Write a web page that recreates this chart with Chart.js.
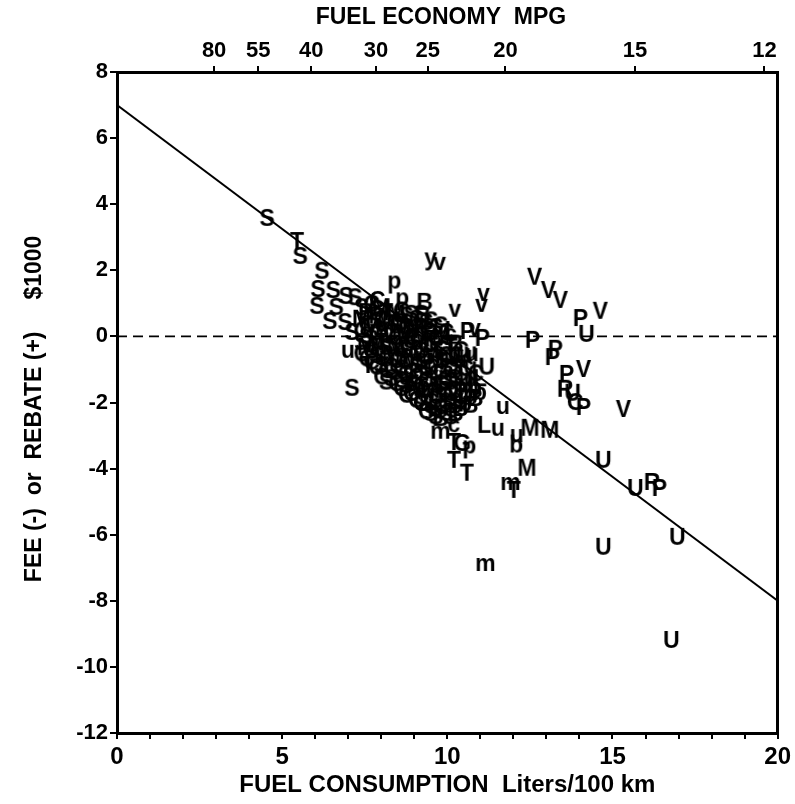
<!DOCTYPE html>
<html><head><meta charset="utf-8">
<script src="https://cdn.jsdelivr.net/npm/chart.js@4/dist/chart.umd.min.js"></script>
<style>html,body{margin:0;padding:0;background:#fff}</style>
</head><body>
<canvas id="c" width="795" height="804"></canvas>
<script>
// ---- data ----
const pointLetters = [
 'S','T','S','S','S','S','S','S','S','S','S','S','S','C','p','p','B','B','y','v',
 'v','v','v','L','P','v','P','u','u','U','u','S','T','u','L','u','u','b','M','M',
 'm','c','T','G','p','T','T','M','m','T','m','V','V','V','V','P','U','P','P','P',
 'P','V','R','U','C','P','V','U','U','R','P','U','U','U',
 // dense cluster
 'S','M','C','S','C','C','T','M','S','G','C','M','C','S','T','C','S','C',
 'L','M','C','S','M','C','S','C','S','M','C','S','C','G','C','S',
 'M','C','S','M','C','S','C','S','P','M','C','S','G','C','S','C','S',
 'B','C','M','C','S','M','C','S','S','M','C','S','C','G','S','C','B','c',
 'T','u','C','S','C','B','S','C','u','C','b','C','B','u','u','u','b','B','L','b','B',
 'C','S','M','C','G', 'S','C','M','S','C','T', 'M','C','S','G','C','S','M',
 'S','C','M','C','S','C','S', 'C','M','S','C','G','S','C','S', 'M','S','C','S','C','M','C','S',
 'S','C','G','S','C','M','S','C','S', 'C','S','M','C','S','C','B','S','C',
 'S','C','S','C','B','S','C','B', 'C','S','B','C','S','B','u', 'C','u','B','b','C', 'b','B','u'
];
const fuelConsumption = [
 4.54,5.45,5.54,6.20,6.08,6.54,6.93,6.05,6.63,6.44,6.90,7.11,7.20,7.87,8.41,8.65,9.32,9.26,9.50,9.77,
 10.23,11.10,11.04,10.14,10.62,10.83,11.07,10.23,10.74,11.20,6.99,7.11,7.60,11.68,11.13,11.53,12.10,12.10,12.50,13.10,
 9.80,10.20,10.20,10.44,10.68,10.20,10.59,12.41,11.92,12.01,11.16,12.65,13.07,13.43,14.64,14.04,14.22,12.59,13.28,13.19,
 13.62,14.13,13.59,13.80,13.86,14.13,15.34,14.73,15.70,16.22,16.43,16.97,14.73,16.79,
 7.4,7.4,7.4,7.4,7.4, 7.7,7.7,7.7,7.7,7.7,7.7, 8.0,8.0,8.0,8.0,8.0,8.0,8.0,
 8.3,8.3,8.3,8.3,8.3,8.3,8.3, 8.6,8.6,8.6,8.6,8.6,8.6,8.6,8.6,
 8.9,8.9,8.9,8.9,8.9,8.9,8.9,8.9, 9.2,9.2,9.2,9.2,9.2,9.2,9.2,9.2,9.2,
 9.5,9.5,9.5,9.5,9.5,9.5,9.5,9.5,9.5, 9.8,9.8,9.8,9.8,9.8,9.8,9.8,9.8,9.8,
 10.1,10.1,10.1,10.1,10.1,10.1,10.1,10.1, 10.4,10.4,10.4,10.4,10.4,10.4, 10.7,10.7,10.7,10.7,10.7, 11.0,11.0,
 7.55,7.55,7.55,7.55,7.55, 7.85,7.85,7.85,7.85,7.85,7.85, 8.15,8.15,8.15,8.15,8.15,8.15,8.15,
 8.45,8.45,8.45,8.45,8.45,8.45,8.45, 8.75,8.75,8.75,8.75,8.75,8.75,8.75,8.75, 9.05,9.05,9.05,9.05,9.05,9.05,9.05,9.05,
 9.35,9.35,9.35,9.35,9.35,9.35,9.35,9.35,9.35, 9.65,9.65,9.65,9.65,9.65,9.65,9.65,9.65,9.65,
 9.95,9.95,9.95,9.95,9.95,9.95,9.95,9.95, 10.25,10.25,10.25,10.25,10.25,10.25,10.25, 10.55,10.55,10.55,10.55,10.55, 10.85,10.85,10.85
];
const feeRebate = [
 3.60,2.90,2.45,2.00,1.45,1.42,1.24,0.94,0.91,0.48,0.45,0.15,1.20,1.12,1.57,1.06,1.06,0.67,2.27,2.21,
 0.79,1.27,0.94,0.21,0.18,0.21,-0.03,-0.55,-0.55,-0.90,-0.45,-1.54,-0.85,-2.15,-2.66,-2.81,-3.00,-3.24,-2.75,-2.81,
 -2.90,-2.70,-3.18,-3.21,-3.42,-3.72,-4.11,-3.96,-4.45,-4.63,-6.90,1.82,1.42,1.12,0.79,0.57,0.09,-0.09,-0.36,-0.61,
 -1.12,-0.97,-1.57,-1.69,-1.97,-2.12,-2.18,-3.72,-4.57,-4.39,-4.57,-6.05,-6.35,-9.17,
 0.9,0.55,0.2,-0.15,-0.5, 1.0,0.65,0.3,-0.05,-0.4,-0.75, 0.9,0.55,0.2,-0.15,-0.5,-0.85,-1.2,
 0.85,0.5,0.15,-0.2,-0.55,-0.9,-1.25, 0.8,0.45,0.1,-0.25,-0.6,-0.95,-1.3,-1.55,
 0.7,0.35,0.0,-0.35,-0.7,-1.05,-1.4,-1.7, 0.7,0.3,-0.05,-0.4,-0.75,-1.1,-1.45,-1.8,-2.0,
 0.5,0.15,-0.2,-0.55,-0.9,-1.25,-1.6,-1.95,-2.3, 0.35,0.0,-0.35,-0.7,-1.05,-1.4,-1.75,-2.1,-2.45,
 0.05,-0.3,-0.65,-1.0,-1.35,-1.7,-2.05,-2.4, -0.4,-0.75,-1.1,-1.45,-1.8,-2.15, -0.5,-0.95,-1.3,-1.7,-2.05, -1.25,-1.65,
 0.75,0.4,0.05,-0.3,-0.65, 0.85,0.5,0.15,-0.2,-0.55,-0.9, 0.75,0.4,0.05,-0.3,-0.65,-1.0,-1.35,
 0.7,0.35,0.0,-0.35,-0.7,-1.05,-1.4, 0.65,0.3,-0.05,-0.4,-0.75,-1.1,-1.45,-1.75, 0.55,0.2,-0.15,-0.5,-0.85,-1.2,-1.55,-1.9,
 0.45,0.1,-0.25,-0.6,-0.95,-1.3,-1.65,-2.0,-2.25, 0.3,-0.05,-0.4,-0.75,-1.1,-1.45,-1.8,-2.15,-2.4,
 0.15,-0.2,-0.55,-0.9,-1.25,-1.6,-1.95,-2.3, -0.2,-0.55,-0.9,-1.25,-1.6,-1.95,-2.3, -0.6,-0.95,-1.3,-1.65,-2.0, -1.1,-1.5,-1.85
];
const mpgTickLabels = [80,55,40,30,25,20,15,12];
const fitLineX = [0,20];
const fitLineY = [7,-8];
const zeroLineX = [0,20];
const zeroLineY = [0,0];

// ---- letter glyphs used as point styles ----
const letterFont = 'bold 23px "Liberation Sans", Arial, sans-serif';
const glyphCache = {};
function letterImage(ch){
  if (glyphCache[ch]) return glyphCache[ch];
  const c = document.createElement('canvas');
  let g = c.getContext('2d');
  g.font = letterFont;
  const m = g.measureText(ch);
  const w = Math.ceil(m.actualBoundingBoxLeft + m.actualBoundingBoxRight) + 2;
  const h = Math.ceil(m.actualBoundingBoxAscent + m.actualBoundingBoxDescent) + 2;
  c.width = w; c.height = h;
  g = c.getContext('2d');
  g.font = letterFont; g.fillStyle = '#000'; g.textBaseline = 'alphabetic';
  g.fillText(ch, 1 + m.actualBoundingBoxLeft, 1 + m.actualBoundingBoxAscent);
  glyphCache[ch] = c;
  return c;
}

const letterData = fuelConsumption.map((x,i)=>({x:x, y:feeRebate[i]}));
const letterStyles = pointLetters.map(letterImage);
const fitData = fitLineX.map((x,i)=>({x:x, y:fitLineY[i]}));
const zeroData = zeroLineX.map((x,i)=>({x:x, y:zeroLineY[i]}));

const FONT = '"Liberation Sans", Arial, sans-serif';
const black = '#000';

new Chart(document.getElementById('c'), {
  type: 'scatter',
  data: {
    datasets: [
      { data: letterData, pointStyle: letterStyles, pointRadius: 3, showLine: false, order: 0 },
      { data: fitData, showLine: true, borderColor: black, borderWidth: 2, pointRadius: 0, order: 1 },
      { data: zeroData, showLine: true, borderColor: black, borderWidth: 1.8, borderDash: [10,6], pointRadius: 0, order: 2 }
    ]
  },
  options: {
    responsive: false,
    animation: false,
    devicePixelRatio: 1,
    events: [],
    layout: { padding: 0 },
    plugins: { legend: { display: false }, tooltip: { enabled: false } },
    scales: {
      x: {
        type: 'linear', position: 'bottom', min: 0, max: 20,
        afterFit: s => { s.height = 71; },
        ticks: { stepSize: 1, autoSkip: false, maxRotation: 0, color: black, padding: 4,
                 font: { family: FONT, size: 24, weight: 'bold' },
                 callback: v => (v % 5 === 0 ? String(v) : '') },
        grid: { drawOnChartArea: false, drawTicks: true, tickLength: 6, color: black, lineWidth: 2 },
        border: { display: true, color: black, width: 3 },
        title: { display: true, text: 'FUEL CONSUMPTION  Liters/100 km', color: black,
                 font: { family: FONT, size: 24, weight: 'bold' }, padding: { top: 0, bottom: 4 } }
      },
      x2: {
        type: 'linear', position: 'top', min: 0, max: 20,
        afterFit: s => { s.height = 72; },
        afterBuildTicks: s => { s.ticks = mpgTickLabels.map(m => ({ value: 235.215 / m })); },
        ticks: { autoSkip: false, maxRotation: 0, color: black, padding: 2,
                 font: { family: FONT, size: 22, weight: 'bold' },
                 callback: (v, i) => String(mpgTickLabels[i]) },
        grid: { drawOnChartArea: false, drawTicks: true, tickLength: 6, color: black, lineWidth: 2 },
        border: { display: true, color: black, width: 3 },
        title: { display: true, text: 'FUEL ECONOMY  MPG  ', color: black,
                 font: { family: FONT, size: 23, weight: 'bold' }, padding: { top: 4, bottom: 0 } }
      },
      y: {
        type: 'linear', position: 'left', min: -12, max: 8,
        afterFit: s => { s.width = 117; },
        ticks: { stepSize: 2, autoSkip: false, color: black, padding: 2,
                 font: { family: FONT, size: 22, weight: 'bold' } },
        grid: { drawOnChartArea: false, drawTicks: true, tickLength: 7, color: black, lineWidth: 2 },
        border: { display: true, color: black, width: 3 },
        title: { display: true, text: 'FEE (-)  or  REBATE (+)     $1000  ', color: black,
                 font: { family: FONT, size: 23, weight: 'bold' }, padding: { top: 21, bottom: 0 } }
      },
      y2: {
        type: 'linear', position: 'right', min: -12, max: 8,
        afterFit: s => { s.width = 17; },
        ticks: { display: false },
        grid: { drawOnChartArea: false, drawTicks: false, color: black },
        border: { display: true, color: black, width: 3 }
      }
    }
  }
});
</script>
</body></html>
